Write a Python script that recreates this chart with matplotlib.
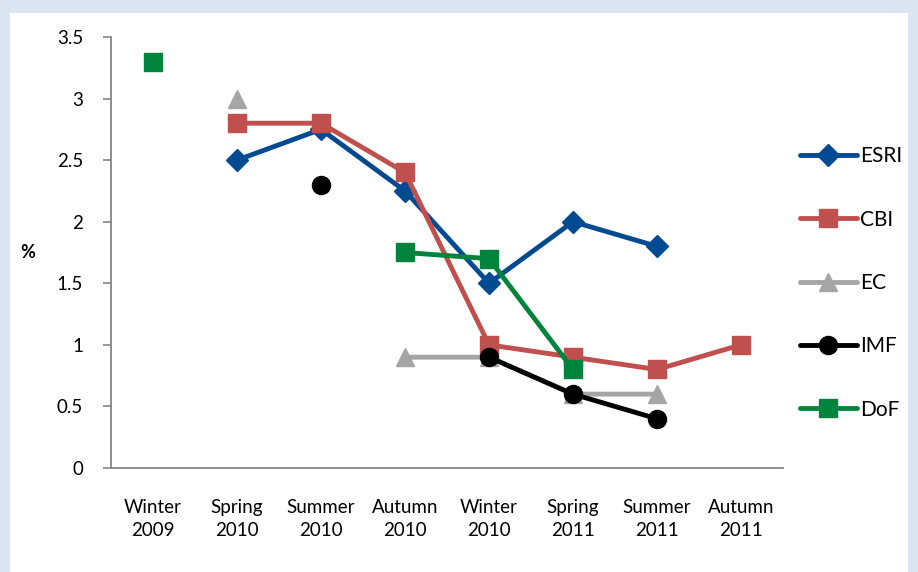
import numpy as np
import matplotlib
matplotlib.use('Agg')
import matplotlib.pyplot as plt
from matplotlib.patches import Rectangle

# Forecast data (% growth) by survey season
seasons = ['Winter\n2009', 'Spring\n2010', 'Summer\n2010', 'Autumn\n2010',
           'Winter\n2010', 'Spring\n2011', 'Summer\n2011', 'Autumn\n2011']
nan = np.nan
esri = [nan, 2.5, 2.75, 2.25, 1.5, 2.0, 1.8, nan]
cbi = [nan, 2.8, 2.8, 2.4, 1.0, 0.9, 0.8, 1.0]
ec = [nan, 3.0, nan, 0.9, 0.9, 0.6, 0.6, nan]
imf = [nan, nan, 2.3, nan, 0.9, 0.6, 0.4, nan]
dof = [3.3, nan, nan, 1.75, 1.7, 0.8, nan, nan]
y_ticks = [0, 0.5, 1, 1.5, 2, 2.5, 3, 3.5]
y_tick_labels = ['0', '0.5', '1', '1.5', '2', '2.5', '3', '3.5']

plt.rcParams['font.family'] = ['Lato', 'DejaVu Sans']

fig = plt.figure(figsize=(9.18, 5.72), dpi=100, facecolor='#dce6f2')
# white panel on top of the light blue border
fig.patches.append(Rectangle((10 / 918, 0), 898 / 918, 1 - 13 / 572,
                             transform=fig.transFigure, facecolor='white',
                             edgecolor='none', zorder=-10))

ax = fig.add_axes([111 / 918, 104 / 572, 672 / 918, 431 / 572])
ax.set_facecolor('none')

x = np.arange(len(seasons))
series = [
    ('ESRI', esri, '#004a91', 'D', 11),
    ('CBI', cbi, '#c0504d', 's', 13),
    ('EC', ec, '#a5a5a5', '^', 13),
    ('IMF', imf, '#000000', 'o', 13),
    ('DoF', dof, '#00843d', 's', 13),
]
for name, vals, color, marker, ms in series:
    ax.plot(x, vals, color=color, lw=3.5, marker=marker, markersize=ms,
            markeredgecolor=color, label=name, solid_capstyle='round',
            clip_on=False)

ax.set_xlim(-0.5, len(seasons) - 0.5)
ax.set_ylim(0, 3.5)
ax.set_yticks(y_ticks)
ax.set_yticklabels(y_tick_labels, fontsize=13.5)
ax.set_xticks(x)
ax.set_xticklabels(seasons, fontsize=13.5, linespacing=1.45)
ax.tick_params(axis='x', length=0, pad=22)
ax.tick_params(axis='y', direction='out', length=6, width=1.2,
               color='#868686', pad=14)

for side in ['top', 'right']:
    ax.spines[side].set_visible(False)
for side in ['left', 'bottom']:
    ax.spines[side].set_color('#868686')
    ax.spines[side].set_linewidth(1.3)

fig.text(28 / 918, 1 - 253 / 572, '%', fontsize=13, fontweight='bold',
         ha='center', va='center')

ax.legend(loc='center left', bbox_to_anchor=(792 / 918, 1 - 283 / 572),
          bbox_transform=fig.transFigure, frameon=False, fontsize=15,
          handlelength=2.7, handletextpad=0.15, labelspacing=2.08,
          borderaxespad=0)

fig.savefig('out.png', dpi=100, facecolor=fig.get_facecolor())
